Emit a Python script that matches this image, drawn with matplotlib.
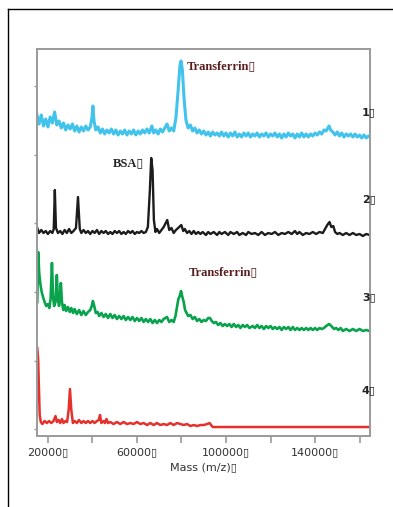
import matplotlib.pyplot as plt
import numpy as np
from matplotlib.lines import Line2D

# spectra: (mass in kDa, intensity above the trace's own baseline)
trace_1 = [(15, 25), (16, 15), (17, 24), (18, 13), (19, 20), (20, 12), (21, 22), (22, 16), (23, 27),
           (24, 14), (25, 18), (26, 11), (27, 16), (28, 9), (29, 14), (30, 10), (31, 15), (32, 8),
           (33, 13), (34, 7), (35, 12), (36, 8), (37, 13), (38, 9), (39, 12), (39.7, 20), (40.2, 33),
           (40.7, 18), (41.5, 9), (42.5, 12), (43.5, 6), (44.5, 10), (45.5, 5), (46.5, 9), (47.5, 6),
           (48.5, 10), (49.5, 5), (50.5, 9), (51.5, 4), (52.5, 8), (53.5, 5), (54.5, 9), (55.5, 4),
           (56.5, 8), (57.5, 5), (58.5, 9), (59.5, 4), (60.5, 8), (61.5, 5), (62.5, 9), (63.5, 6),
           (64.5, 10), (65.5, 6), (66.7, 13), (67.5, 6), (68.5, 9), (69.5, 5), (70.5, 10), (71.5, 7),
           (72.5, 11), (73.5, 15), (74.5, 8), (75.5, 11), (76.5, 8), (77.5, 21), (78.5, 49),
           (79.3, 73), (79.8, 78), (80.4, 69), (81.2, 39), (82, 19), (83, 11), (84, 14), (85, 8),
           (86, 11), (87, 6), (88, 9), (89, 5), (90, 8), (91, 4), (92, 7), (93, 3), (94, 7), (95, 4),
           (96, 6), (97, 3), (98, 7), (99, 3), (100, 6), (101, 2), (102, 6), (103, 3), (104, 7),
           (105, 2), (106, 5), (107, 2), (108, 6), (109, 3), (110, 6), (111, 2), (112, 5), (113, 3),
           (114, 6), (115, 2), (116, 5), (117, 3), (118, 6), (119, 2), (120, 5), (121, 3), (122, 6),
           (123, 2), (124, 5), (125, 1), (126, 5), (127, 2), (128, 6), (129, 3), (130, 5), (131, 1),
           (132, 5), (133, 2), (134, 6), (135, 2), (136, 5), (137, 2), (138, 5), (139, 3), (140, 6),
           (141, 4), (142, 7), (143, 5), (144, 9), (145, 8), (146.3, 13), (147, 9), (148, 7),
           (149, 4), (150, 7), (151, 3), (152, 6), (153, 2), (154, 5), (155, 3), (156, 5), (157, 2),
           (158, 5), (159, 2), (160, 4), (161, 1), (162, 4), (163, 1), (164, 3), (165, 1)]

trace_2 = [(15.2, 8), (16, 3), (17, 6), (18, 3), (19, 5), (20, 2), (21, 5), (22, 3), (22.6, 7),
           (23.1, 46), (23.6, 8), (24.5, 3), (25.5, 5), (26.5, 2), (27.5, 6), (28.5, 3), (29.5, 7),
           (30.5, 3), (31.5, 5), (32.6, 8), (33.5, 39), (34.3, 7), (35, 3), (36, 6), (37, 3), (38, 5),
           (39, 2), (40, 5), (41, 3), (42, 6), (43, 2), (44, 5), (45, 3), (46, 5), (47, 2), (48, 4),
           (49, 2), (50, 5), (51, 3), (52, 5), (53, 2), (54, 4), (55, 2), (56, 5), (57, 3), (58, 5),
           (59, 2), (60, 4), (61, 3), (62, 5), (63, 3), (64, 4), (64.9, 9), (65.8, 46), (66.4, 78),
           (67.0, 66), (67.6, 16), (68.3, 4), (69, 7), (70, 3), (71, 6), (72, 9), (73.6, 16),
           (74.5, 6), (75.5, 8), (76.5, 3), (77.5, 6), (78.5, 8), (79.9, 11), (80.8, 5), (81.5, 7),
           (82.5, 3), (83.5, 5), (84.5, 2), (85.5, 5), (86.5, 2), (87.5, 4), (88.5, 2), (89.5, 4),
           (91, 1), (92, 4), (93, 2), (94.5, 4), (96, 1), (97, 4), (98, 2), (99.5, 4), (101, 1),
           (102, 4), (103.5, 2), (105, 4), (106, 1), (107.5, 3), (109, 1), (110, 4), (111.5, 2),
           (113, 3), (114.5, 1), (116, 4), (117.5, 1), (119, 3), (120.5, 2), (122, 4), (123.5, 1),
           (125, 3), (126.5, 2), (128, 4), (129.5, 2), (131, 5), (132, 2), (133, 4), (134.5, 1),
           (136, 3), (137.5, 2), (139, 4), (140.5, 2), (142, 4), (143.5, 3), (144.5, 7), (145.5, 11),
           (146.5, 14), (147.3, 9), (148.2, 10), (149, 4), (150, 2), (151, 3), (152.5, 1), (154, 3),
           (155.5, 1), (157, 3), (158.5, 1), (160, 2), (161.5, 0), (163, 2), (164.5, 1)]

trace_3 = [(15.2, 30), (15.6, 80), (16.1, 58), (16.6, 48), (17.2, 40), (17.8, 35), (18.5, 30),
           (19.2, 26), (20, 28), (20.6, 24), (21.2, 33), (21.8, 69), (22.3, 35), (22.8, 26),
           (23.4, 30), (24.0, 57), (24.5, 32), (25, 26), (25.4, 34), (25.8, 49), (26.3, 30),
           (26.9, 22), (27.5, 27), (28.2, 21), (29, 25), (29.8, 20), (30.5, 24), (31.3, 19), (32, 23),
           (33, 18), (34, 22), (35, 17), (36, 21), (37, 17), (38, 20), (39, 22), (39.7, 26),
           (40.2, 31), (40.8, 26), (41.5, 19), (42.3, 20), (43, 16), (44, 19), (45, 15), (46, 18),
           (47, 14), (48, 18), (49, 14), (50, 17), (51, 13), (52, 16), (53, 13), (54, 16), (55, 12),
           (56, 15), (57, 12), (58, 15), (59, 11), (60, 14), (61, 11), (62, 14), (63, 10), (64, 13),
           (65, 10), (66, 13), (67, 9), (68, 12), (69, 9), (70, 12), (71, 10), (72, 13), (73.5, 15),
           (74.5, 10), (75.5, 12), (76.5, 10), (77.3, 16), (77.9, 24), (78.6, 33), (79.2, 36),
           (79.8, 41), (80.4, 35), (81, 30), (81.6, 22), (82.3, 19), (83, 16), (84, 17), (85, 13),
           (86, 15), (87, 11), (88, 13), (89, 10), (90, 12), (91, 11), (92, 14), (92.8, 14),
           (93.6, 11), (94.5, 9), (95.5, 10), (96.5, 7), (97.5, 9), (98.5, 6), (99.5, 8), (100.5, 6),
           (101.5, 8), (102.5, 5), (103.5, 8), (104.5, 5), (105.5, 7), (106.5, 4), (107.5, 7),
           (108.5, 5), (109.5, 7), (110.5, 4), (112, 6), (113, 4), (114, 7), (115, 4), (116, 6),
           (117, 3), (118, 6), (119, 4), (120, 6), (121, 3), (122, 5), (123, 3), (124, 5), (125, 2),
           (126, 5), (127, 3), (128, 5), (129, 2), (130, 5), (131, 2), (132, 4), (133, 2), (134, 4),
           (135, 2), (136, 4), (137, 2), (138, 4), (139, 2), (140, 4), (141, 2), (142, 4), (143, 3),
           (144, 4), (145, 6), (146.3, 8), (147.3, 6), (148.5, 3), (149.5, 4), (150.5, 2),
           (151.5, 4), (152.5, 1), (154, 3), (155.5, 1), (157, 3), (158.5, 1), (160, 3), (161.5, 1),
           (163, 2), (164.5, 1)]

trace_4 = [(15.2, 81), (15.6, 70), (15.9, 45), (16.3, 14), (16.8, 7), (17.5, 5), (18.5, 8),
           (19.5, 6), (20.5, 8), (21.5, 6), (22.5, 8), (23.4, 13), (24, 7), (24.8, 9), (25.5, 6),
           (26.3, 10), (27, 6), (27.8, 8), (28.6, 7), (29.3, 19), (29.9, 40), (30.5, 19), (31.2, 6),
           (32, 8), (33, 6), (34, 9), (35, 6), (36, 8), (37, 6), (38, 8), (39, 6), (40, 8), (41, 6),
           (42, 8), (42.8, 9), (43.4, 14), (44, 6), (45, 8), (45.6, 6), (46.3, 10), (47, 6), (48, 7),
           (49.5, 5), (51, 7), (52.5, 5), (54, 7), (55.5, 5), (57, 6), (58.5, 5), (60, 7), (61.5, 5),
           (63, 6), (64.5, 4), (66, 6), (67.5, 4), (69, 6), (70.5, 4), (72, 5), (73.5, 4), (75, 6),
           (76.5, 4), (78, 6), (79.5, 5), (81, 4), (82.5, 5), (84, 3), (85.5, 4), (87, 3), (88.5, 4),
           (90, 4), (91.5, 5), (92.6, 6), (93.3, 4), (94, 2), (164.5, 2)]

trace_names = ["1", "2", "3", "4"]
trace_colors = ["#41C3EC", "#1C1C1C", "#0AA34D", "#E5302B"]
trace_widths = [2.2, 1.7, 1.9, 1.8]
trace_offsets = [290, 193, 97, 0]
tick_masses = [20000, 40000, 60000, 80000, 100000, 120000, 140000, 160000]
tick_labels = ["20000\u25af", "", "60000\u25af", "", "100000\u25af", "", "140000\u25af", ""]

fig = plt.figure(figsize=(3.93, 5.07), dpi=100)
ax = fig.add_axes([0.094, 0.14, 0.8475, 0.7634])

for trace, color, lw, off in zip([trace_1, trace_2, trace_3, trace_4], trace_colors,
                                 trace_widths, trace_offsets):
    arr = np.array(trace, dtype=float)
    ax.plot(arr[:, 0] * 1000, arr[:, 1] + off, color=color, lw=lw, solid_joinstyle="round")

# trace numbers on the right
for name, off, dy in zip(trace_names, trace_offsets, [27, 37, 35, 39]):
    ax.text(161100, off + dy, name + "\u25af", fontsize=8, fontweight="bold",
            color="#222222", va="center", ha="left", clip_on=False)

serif = dict(family=["Liberation Serif", "DejaVu Sans"], fontsize=9, fontweight="bold",
             va="center", ha="left")
ax.text(82500, 363, "Transferrin\u25af", color="#5A1E1E", **serif)
ax.text(83400, 157, "Transferrin\u25af", color="#5A1E1E", **serif)
ax.text(49200, 266, "BSA\u25af", color="#222222", **serif)

ax.set_xlim(15060, 164700)
ax.set_ylim(-7, 380)
ax.set_xticks(tick_masses)
ax.set_xticklabels(tick_labels, fontsize=8, color="#333333")
ax.set_yticks([0, 68.5, 137, 205.5, 274, 342.5])
ax.set_yticklabels([])
ax.tick_params(axis="x", length=5, width=1.2, color="#999999", pad=3)
ax.tick_params(axis="y", length=2.5, width=1, color="#999999")
for sp in ax.spines.values():
    sp.set_color("#9A9A9A")
    sp.set_linewidth(1.4)
ax.set_xlabel("Mass (m/z)\u25af", fontsize=8, color="#333333", labelpad=4)

# outer frame (left and top edges)
fig.add_artist(Line2D([0.0204, 0.0204], [0.0, 0.982], color="black", lw=1))
fig.add_artist(Line2D([0.0204, 1.0], [0.982, 0.982], color="black", lw=1))

fig.savefig("out.png", dpi=100)
